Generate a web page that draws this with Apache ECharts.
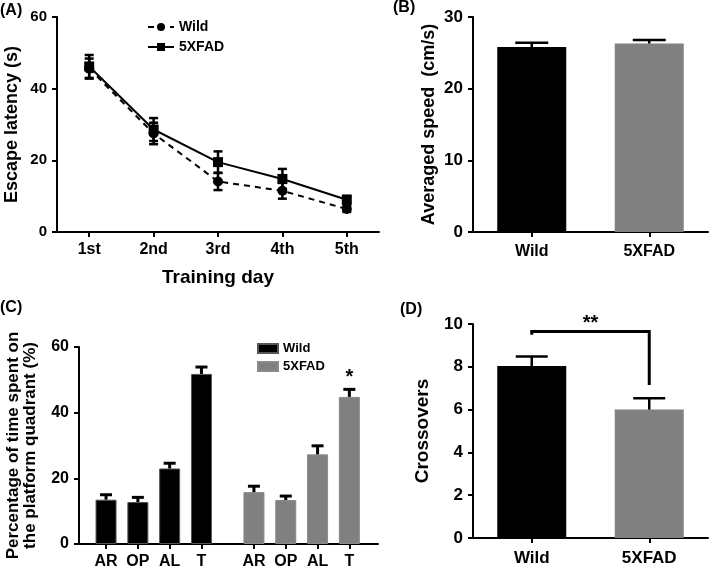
<!DOCTYPE html>
<html><head><meta charset="utf-8">
<script src="https://cdn.jsdelivr.net/npm/echarts@6/dist/echarts.min.js"></script>
<style>html,body{margin:0;padding:0;background:#fff}#c{width:709px;height:570px}</style>
</head><body><div id="c"></div>
<script>
// Panel A
const daysA = ['1st','2nd','3rd','4th','5th'];
const wildA = [45.6,27.5,14.1,11.5,6.4];
const wildAErr = [2.8,3.0,2.4,2.2,0.8];
const fadA = [46.2,28.6,19.5,14.8,9.0];
const fadAErr = [3.2,3.2,3.0,2.8,1.1];
// Panel B
const groupsB = ['Wild','5XFAD'];
const speedB = [25.8,26.3];
const speedBErr = [0.6,0.5];
// Panel C
const quadC = ['AR','OP','AL','T'];
const posCWild = [1,2,3,4];
const posCFad = [5.65,6.65,7.65,8.65];
const wildC = [13.5,12.8,23.0,51.8];
const wildCErr = [1.5,1.4,1.6,2.1];
const fadC = [15.8,13.4,27.3,44.8];
const fadCErr = [1.8,1.2,2.6,2.3];
// Panel D
const groupsD = ['Wild','5XFAD'];
const crossD = [8.04,6.0];
const crossDErr = [0.44,0.53];
const bracketD = [9.5, 9.65, 7.15];

const FONT = "'Liberation Sans', Arial, sans-serif";
const BLACK = '#000';
const GRAY = '#808080';

function errRender(capW, lw, upperOnly) {
  return function (params, api) {
    const x = api.value(0), m = api.value(1), e = api.value(2);
    const top = api.coord([x, m + e]);
    const bot = api.coord([x, upperOnly ? m : m - e]);
    const cx = top[0];
    const st = {stroke: '#000', lineWidth: lw};
    const ch = [
      {type: 'line', shape: {x1: cx, y1: top[1], x2: cx, y2: bot[1]}, style: st},
      {type: 'line', shape: {x1: cx - capW / 2, y1: top[1], x2: cx + capW / 2, y2: top[1]}, style: st}
    ];
    if (!upperOnly) ch.push({type: 'line', shape: {x1: cx - capW / 2, y1: bot[1], x2: cx + capW / 2, y2: bot[1]}, style: st});
    return {type: 'group', children: ch};
  };
}

const axisLine = {show: true, lineStyle: {color: '#000', width: 2}};
const axisTick = {show: true, inside: false, length: 5, lineStyle: {color: '#000', width: 2}};
function lbl(size, extra) {
  return Object.assign({color: '#000', fontFamily: FONT, fontWeight: 'bold', fontSize: size}, extra || {});
}
function nm(size, extra) {
  return Object.assign({color: '#000', fontFamily: FONT, fontWeight: 'bold', fontSize: size}, extra || {});
}

function yAxis(idx, min, max, interval, name, gap, tickSize, nameSize, extra) {
  return {
    type: 'value', gridIndex: idx, min: min, max: max, interval: interval,
    axisLine: axisLine, axisTick: axisTick, splitLine: {show: false},
    axisLabel: lbl(tickSize, {margin: 10}),
    name: name, nameLocation: 'middle', nameGap: gap, nameRotate: 90,
    nameTextStyle: nm(nameSize, extra)
  };
}

const option = {
  animation: false,
  backgroundColor: '#fff',
  textStyle: {fontFamily: FONT},
  grid: [
    {left: 57, right: 330, top: 17, bottom: 338},
    {left: 473, right: 1, top: 17, bottom: 338},
    {left: 79, right: 331, top: 347, bottom: 25},
    {left: 473, right: 1, top: 324, bottom: 32}
  ],
  legend: [
    {
      data: ['Wild', '5XFAD'], orient: 'vertical', left: 147, top: 20, padding: 0,
      itemWidth: 26, itemHeight: 10, itemGap: 6,
      textStyle: {color: '#000', fontFamily: FONT, fontWeight: 'bold', fontSize: 14},
      selectedMode: false
    },
    {
      data: [{name: 'Wild C', icon: 'rect'}, {name: '5XFAD C', icon: 'rect'}],
      orient: 'vertical', left: 257, top: 342, padding: 0,
      itemWidth: 20, itemHeight: 9, itemGap: 5,
      formatter: function (n) { return n.replace(' C', ''); },
      textStyle: {color: '#000', fontFamily: FONT, fontWeight: 'bold', fontSize: 13},
      selectedMode: false
    }
  ],
  xAxis: [
    {
      type: 'category', gridIndex: 0, data: daysA, boundaryGap: true,
      axisLine: axisLine, axisTick: Object.assign({alignWithLabel: true}, axisTick),
      axisLabel: lbl(16, {margin: 10}),
      name: 'Training day', nameLocation: 'middle', nameGap: 36, nameTextStyle: nm(19)
    },
    {
      type: 'category', gridIndex: 1, data: groupsB, boundaryGap: true,
      axisLine: axisLine, axisTick: Object.assign({alignWithLabel: true}, axisTick),
      axisLabel: lbl(16, {margin: 12})
    },
    {
      type: 'value', gridIndex: 2, min: 0.15, max: 9.55,
      axisLine: axisLine, splitLine: {show: false},
      axisTick: Object.assign({customValues: posCWild.concat(posCFad)}, axisTick),
      axisLabel: lbl(16, {
        margin: 10, customValues: posCWild.concat(posCFad),
        formatter: function (v) {
          let i = posCWild.indexOf(v); if (i < 0) i = posCFad.indexOf(v);
          return i >= 0 ? quadC[i] : '';
        }
      })
    },
    {
      type: 'category', gridIndex: 3, data: groupsD, boundaryGap: true,
      axisLine: axisLine, axisTick: Object.assign({alignWithLabel: true}, axisTick),
      axisLabel: lbl(17, {margin: 12})
    }
  ],
  yAxis: [
    yAxis(0, 0, 60, 20, 'Escape latency (s)', 36, 15, 18),
    yAxis(1, 0, 30, 10, 'Averaged speed  (cm/s)', 35, 17, 18),
    yAxis(2, 0, 60, 20, 'Percentage of time spent on\nthe platform quadrant (%)', 40, 16, 17, {lineHeight: 17}),
    yAxis(3, 0, 10, 2, 'Crossovers', 41, 17, 19)
  ],
  series: [
    // Panel A
    {
      name: 'Wild', type: 'line', xAxisIndex: 0, yAxisIndex: 0, data: wildA,
      symbol: 'circle', symbolSize: 10, lineStyle: {color: '#000', width: 2, type: [6, 5]},
      itemStyle: {color: '#000'}, z: 3
    },
    {
      name: '5XFAD', type: 'line', xAxisIndex: 0, yAxisIndex: 0, data: fadA,
      symbol: 'rect', symbolSize: 10, lineStyle: {color: '#000', width: 2},
      itemStyle: {color: '#000'}, z: 3
    },
    {
      type: 'custom', xAxisIndex: 0, yAxisIndex: 0, renderItem: errRender(9, 2.5, false),
      data: wildA.map((v, i) => [i, v, wildAErr[i]]), z: 4, silent: true
    },
    {
      type: 'custom', xAxisIndex: 0, yAxisIndex: 0, renderItem: errRender(9, 2.5, false),
      data: fadA.map((v, i) => [i, v, fadAErr[i]]), z: 4, silent: true
    },
    // Panel B
    {
      type: 'bar', xAxisIndex: 1, yAxisIndex: 1, barWidth: 69,
      data: speedB.map((v, i) => ({value: v, itemStyle: {color: i === 0 ? BLACK : GRAY}}))
    },
    {
      type: 'custom', xAxisIndex: 1, yAxisIndex: 1, renderItem: errRender(33, 2.5, true),
      data: speedB.map((v, i) => [i, v, speedBErr[i]]), z: 4, silent: true
    },
    // Panel C
    {
      name: 'Wild C', type: 'bar', xAxisIndex: 2, yAxisIndex: 2, barWidth: 21, barGap: '-100%',
      data: posCWild.map((p, i) => [p, wildC[i]]),
      itemStyle: {color: BLACK, borderColor: '#555', borderWidth: 1}
    },
    {
      name: '5XFAD C', type: 'bar', xAxisIndex: 2, yAxisIndex: 2, barWidth: 21, barGap: '-100%',
      data: posCFad.map((p, i) => [p, fadC[i]]),
      itemStyle: {color: GRAY, borderColor: '#8a8a8a', borderWidth: 1}
    },
    {
      type: 'custom', xAxisIndex: 2, yAxisIndex: 2, renderItem: errRender(12, 3, true),
      data: posCWild.map((p, i) => [p, wildC[i], wildCErr[i]]).concat(posCFad.map((p, i) => [p, fadC[i], fadCErr[i]])),
      z: 4, silent: true
    },
    {
      type: 'custom', xAxisIndex: 2, yAxisIndex: 2, silent: true, z: 5,
      data: [[posCFad[3], fadC[3] + fadCErr[3]]],
      renderItem: function (params, api) {
        const p = api.coord([api.value(0), api.value(1)]);
        return {type: 'text', x: p[0], y: p[1] - 2,
          style: {text: '*', fill: '#000', font: 'bold 20px ' + FONT, align: 'center', verticalAlign: 'bottom'}};
      }
    },
    // Panel D
    {
      type: 'bar', xAxisIndex: 3, yAxisIndex: 3, barWidth: 69,
      data: crossD.map((v, i) => ({value: v, itemStyle: {color: i === 0 ? BLACK : GRAY}}))
    },
    {
      type: 'custom', xAxisIndex: 3, yAxisIndex: 3, renderItem: errRender(32, 2.5, true),
      data: crossD.map((v, i) => [i, v, crossDErr[i]]), z: 4, silent: true
    },
    {
      type: 'custom', xAxisIndex: 3, yAxisIndex: 3, silent: true, z: 5,
      data: [[0, 1]],
      renderItem: function (params, api) {
        const a = api.coord([0, bracketD[0]]);
        const b = api.coord([0, bracketD[1]]);
        const c = api.coord([1, bracketD[1]]);
        const d = api.coord([1, bracketD[2]]);
        return {type: 'group', children: [
          {type: 'polyline', shape: {points: [a, b, c, d]}, style: {stroke: '#000', lineWidth: 3, fill: null}},
          {type: 'text', x: (b[0] + c[0]) / 2, y: b[1] + 2,
            style: {text: '**', fill: '#000', font: 'bold 20px ' + FONT, align: 'center', verticalAlign: 'bottom'}}
        ]};
      }
    }
  ],
  graphic: [
    {type: 'text', left: 0, top: 3, style: {text: '(A)', fill: '#000', font: 'bold 16px ' + FONT}},
    {type: 'text', left: 393, top: 0, style: {text: '(B)', fill: '#000', font: 'bold 16px ' + FONT}},
    {type: 'text', left: 0, top: 300, style: {text: '(C)', fill: '#000', font: 'bold 16px ' + FONT}},
    {type: 'text', left: 400, top: 302, style: {text: '(D)', fill: '#000', font: 'bold 16px ' + FONT}}
  ]
};

const chart = echarts.init(document.getElementById('c'), null, {renderer: 'canvas'});
chart.setOption(option);
</script>
</body></html>
